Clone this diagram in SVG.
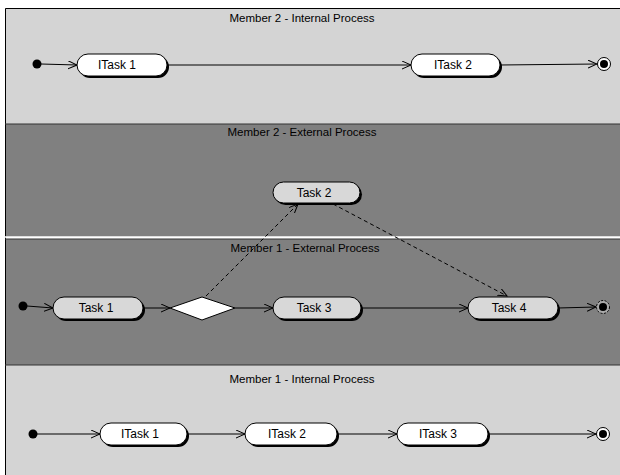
<svg xmlns="http://www.w3.org/2000/svg" width="620" height="475" viewBox="0 0 620 475">
<defs>
<marker id="arr" markerWidth="10" markerHeight="10" refX="9" refY="4" orient="auto" markerUnits="userSpaceOnUse">
<path d="M0,0 L9,4 L0,8" fill="none" stroke="#000" stroke-width="1"/>
</marker>
<style>
.lane-l{fill:#d4d4d4}
.lane-d{fill:#808080}
.title{font-family:"Liberation Sans",Arial,sans-serif;font-size:11.5px;text-anchor:middle;fill:#000}
.lbl{font-family:"Liberation Sans",Arial,sans-serif;font-size:12px;text-anchor:middle;fill:#000}
.int{fill:#fff;stroke:#000;stroke-width:1}
.ext{fill:#d8d8d8;stroke:#000;stroke-width:1}
.shadow{fill:#000}
.edge{fill:none;stroke:#000;stroke-width:1;marker-end:url(#arr)}
.dash{stroke-dasharray:4,3}
</style>
</defs>
<rect width="620" height="475" fill="#fff"/>
<g id="lanes">
<rect class="lane-l" x="5" y="8" width="615" height="116"/>
<rect class="lane-d" x="5" y="124" width="615" height="113"/>
<rect class="lane-d" x="5" y="239" width="615" height="126"/>
<rect class="lane-l" x="5" y="365" width="615" height="110"/>
<path d="M5.5,475 V8.5 H620" fill="none" stroke="#000"/>
<line x1="5" y1="124" x2="620" y2="124" stroke="#333"/>
<line x1="5" y1="237" x2="620" y2="237" stroke="#fff" stroke-width="1.5"/>
<line x1="5" y1="239" x2="620" y2="239" stroke="#333"/>
<line x1="5" y1="365" x2="620" y2="365" stroke="#333"/>
<text class="title" x="302" y="22">Member 2 - Internal Process</text>
<text class="title" x="302" y="136">Member 2 - External Process</text>
<text class="title" x="305" y="252">Member 1 - External Process</text>
<text class="title" x="302" y="383">Member 1 - Internal Process</text>
</g>
<g id="connectors">
<line class="edge" x1="41" y1="64" x2="77" y2="65"/>
<line class="edge" x1="167" y1="65" x2="411" y2="65"/>
<line class="edge" x1="500" y1="65" x2="597" y2="64"/>
<line class="edge" x1="27" y1="306" x2="53" y2="308"/>
<line class="edge" x1="143" y1="308" x2="170" y2="308"/>
<line class="edge" x1="235" y1="308" x2="273" y2="308"/>
<line class="edge" x1="361" y1="308" x2="468" y2="308"/>
<line class="edge" x1="558" y1="308" x2="596" y2="307"/>
<line class="edge dash" x1="206" y1="296" x2="298" y2="204"/>
<line class="edge dash" x1="333" y1="204" x2="507" y2="296"/>
<line class="edge" x1="37" y1="434" x2="100" y2="434"/>
<line class="edge" x1="187" y1="434" x2="245" y2="434"/>
<line class="edge" x1="337" y1="434" x2="397" y2="434"/>
<line class="edge" x1="488" y1="434" x2="596" y2="434"/>
</g>
<g id="m2-start"><circle cx="37" cy="64" r="4.5" fill="#000"/></g>
<g id="m2-itask1"><rect class="shadow" x="79" y="56" width="90" height="22" rx="11"/><rect class="int" x="77" y="54" width="90" height="22" rx="11"/><text class="lbl" x="117" y="69">ITask 1</text></g>
<g id="m2-itask2"><rect class="shadow" x="413" y="56" width="89" height="22" rx="11"/><rect class="int" x="411" y="54" width="89" height="22" rx="11"/><text class="lbl" x="453" y="69">ITask 2</text></g>
<g id="m2-end"><circle cx="604" cy="64" r="6.5" fill="#fff" stroke="#000"/><circle cx="604" cy="64" r="4" fill="#000"/></g>
<g id="e-task2"><rect class="shadow" x="275" y="184" width="87" height="21" rx="10.5"/><rect class="ext" x="273" y="182" width="87" height="21" rx="10.5"/><text class="lbl" x="314" y="197">Task 2</text></g>
<g id="e-start"><circle cx="23" cy="306" r="4.5" fill="#000"/></g>
<g id="e-task1"><rect class="shadow" x="55" y="299" width="90" height="22" rx="11"/><rect class="ext" x="53" y="297" width="90" height="22" rx="11"/><text class="lbl" x="96" y="312">Task 1</text></g>
<g id="e-decision"><polygon points="170,308 202,297 235,308 202,320" fill="#fff" stroke="#000" stroke-width="1"/></g>
<g id="e-task3"><rect class="shadow" x="275" y="299" width="88" height="22" rx="11"/><rect class="ext" x="273" y="297" width="88" height="22" rx="11"/><text class="lbl" x="314" y="312">Task 3</text></g>
<g id="e-task4"><rect class="shadow" x="470" y="299" width="90" height="22" rx="11"/><rect class="ext" x="468" y="297" width="90" height="22" rx="11"/><text class="lbl" x="509" y="312">Task 4</text></g>
<g id="e-end"><circle cx="603" cy="307" r="6.5" fill="#aaa" stroke="#000" stroke-dasharray="2,1.5"/><circle cx="603" cy="307" r="4" fill="#000"/></g>
<g id="m1-start"><circle cx="33" cy="434" r="4.5" fill="#000"/></g>
<g id="m1-itask1"><rect class="shadow" x="102" y="425" width="87" height="22" rx="11"/><rect class="int" x="100" y="423" width="87" height="22" rx="11"/><text class="lbl" x="140" y="438">ITask 1</text></g>
<g id="m1-itask2"><rect class="shadow" x="247" y="425" width="92" height="22" rx="11"/><rect class="int" x="245" y="423" width="92" height="22" rx="11"/><text class="lbl" x="287" y="438">ITask 2</text></g>
<g id="m1-itask3"><rect class="shadow" x="399" y="425" width="91" height="22" rx="11"/><rect class="int" x="397" y="423" width="91" height="22" rx="11"/><text class="lbl" x="438" y="438">ITask 3</text></g>
<g id="m1-end"><circle cx="603" cy="434" r="6.5" fill="#fff" stroke="#000"/><circle cx="603" cy="434" r="4" fill="#000"/></g>
</svg>
